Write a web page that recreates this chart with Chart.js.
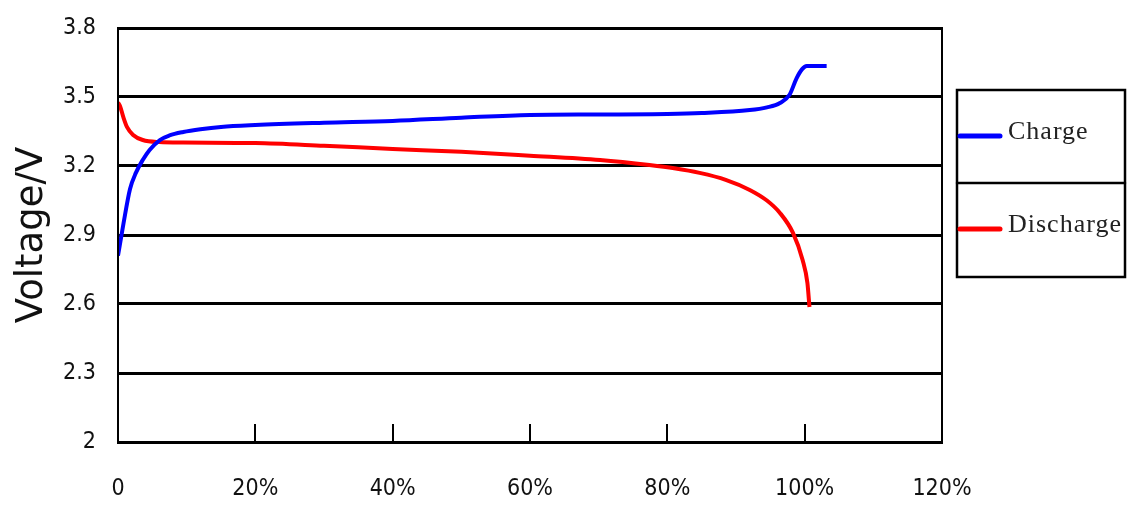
<!DOCTYPE html>
<html>
<head>
<meta charset="utf-8">
<script src="https://cdn.jsdelivr.net/npm/chart.js@4"></script>
<style>
  html, body { margin: 0; padding: 0; background: #fff; }
  #wrap { width: 1130px; height: 507px; }
</style>
</head>
<body>
<div id="wrap"><canvas id="voltChart"></canvas></div>
<script>
// ===== Data (capacity %, voltage V) =====
const chargePct = [0, 0.8, 1.75, 2.6, 3.6, 4.6, 6.1, 7.5, 9.5, 12, 15, 20, 30, 40, 50, 60, 70, 80, 85, 92, 94.5, 96.4, 97.8, 98.8, 99.6, 100.3, 103.2];
const chargeVolt = [2.81, 2.95, 3.10, 3.17, 3.226, 3.27, 3.313, 3.333, 3.348, 3.36, 3.37, 3.378, 3.388, 3.396, 3.41, 3.422, 3.424, 3.426, 3.43, 3.443, 3.455, 3.474, 3.51, 3.58, 3.62, 3.635, 3.635];

const dischargePct = [0, 0.3, 0.8, 1.3, 2.2, 3.6, 6, 9.5, 20, 30, 40, 50, 60, 70.2, 77.4, 81, 84.7, 88.5, 92, 94.5, 96.4, 98.3, 99.7, 100.4, 100.7];
const dischargeVolt = [3.476, 3.46, 3.41, 3.37, 3.335, 3.313, 3.304, 3.302, 3.30, 3.288, 3.274, 3.262, 3.245, 3.226, 3.204, 3.19, 3.17, 3.14, 3.096, 3.05, 2.996, 2.909, 2.791, 2.691, 2.587];

const xTicks = [0, 20, 40, 60, 80, 100, 120];
const yTicks = [2, 2.3, 2.6, 2.9, 3.2, 3.5, 3.8];

const toPoints = (xs, ys) => xs.map((x, i) => ({ x: x, y: ys[i] }));

// frame around the plot area
const framePlugin = {
  id: 'frame',
  afterDraw(chart) {
    const { ctx, chartArea: a } = chart;
    ctx.save();
    ctx.strokeStyle = '#000';
    ctx.lineWidth = 2;
    ctx.strokeRect(a.left, a.top, a.right - a.left, a.bottom - a.top);
    ctx.restore();
  }
};

// boxed legend on the right, one cell per dataset
const boxLegend = {
  id: 'boxLegend',
  afterDraw(chart) {
    const { ctx } = chart;
    const sets = chart.data.datasets;
    const left = 957, right = 1125, top = 90, cell = 93;
    ctx.save();
    ctx.strokeStyle = '#000';
    ctx.lineWidth = 2.5;
    ctx.strokeRect(left, top, right - left, cell * sets.length + 1);
    sets.forEach((ds, i) => {
      const cy = top + cell * i + 46;
      if (i > 0) {
        ctx.beginPath();
        ctx.moveTo(left, top + cell * i);
        ctx.lineTo(right, top + cell * i);
        ctx.stroke();
      }
      ctx.beginPath();
      ctx.strokeStyle = ds.borderColor;
      ctx.lineWidth = 5;
      ctx.lineCap = 'round';
      ctx.moveTo(left + 3, cy);
      ctx.lineTo(left + 43, cy);
      ctx.stroke();
      ctx.strokeStyle = '#000';
      ctx.lineWidth = 2.5;
      ctx.fillStyle = '#222';
      ctx.font = "26px 'Liberation Serif', serif";
      ctx.letterSpacing = '1px';
      ctx.textBaseline = 'middle';
      ctx.fillText(ds.label, left + 51, cy - 4);
    });
    ctx.restore();
  }
};

const ctx = document.getElementById('voltChart').getContext('2d');
new Chart(ctx, {
  type: 'line',
  plugins: [framePlugin, boxLegend],
  data: {
    datasets: [
      {
        label: 'Charge',
        data: toPoints(chargePct, chargeVolt),
        borderColor: '#0000ff',
        borderWidth: 4,
        pointRadius: 0,
        cubicInterpolationMode: 'monotone',
        fill: false
      },
      {
        label: 'Discharge',
        data: toPoints(dischargePct, dischargeVolt),
        borderColor: '#ff0000',
        borderWidth: 4,
        pointRadius: 0,
        cubicInterpolationMode: 'monotone',
        fill: false
      }
    ]
  },
  options: {
    responsive: true,
    maintainAspectRatio: false,
    animation: false,
    layout: { padding: { top: 28, right: 188, left: 0, bottom: 0 } },
    plugins: {
      legend: { display: false },
      tooltip: { enabled: false }
    },
    scales: {
      x: {
        type: 'linear',
        min: xTicks[0],
        max: xTicks[xTicks.length - 1],
        afterBuildTicks: scale => { scale.ticks = xTicks.map(v => ({ value: v })); },
        afterFit: scale => { scale.height = 65; },
        grid: {
          drawOnChartArea: false,
          color: '#000',
          lineWidth: 2,
          tickLength: -18
        },
        border: { color: '#000', width: 3 },
        ticks: {
          color: '#111',
          padding: 51,
          maxRotation: 0,
          font: { family: "'DejaVu Sans Condensed', 'DejaVu Sans', sans-serif", size: 23 },
          callback: v => v === 0 ? '0' : v + '%'
        }
      },
      y: {
        min: yTicks[0],
        max: yTicks[yTicks.length - 1],
        afterBuildTicks: scale => { scale.ticks = yTicks.map(v => ({ value: v })); },
        afterFit: scale => { scale.width = 118; scale.paddingTop = 0; scale.paddingBottom = 0; },
        grid: {
          color: '#000',
          lineWidth: 3,
          drawTicks: false
        },
        border: { color: '#000', width: 2 },
        ticks: {
          color: '#111',
          padding: 22,
          font: { family: "'DejaVu Sans Condensed', 'DejaVu Sans', sans-serif", size: 23 },
          callback: v => String(+v.toFixed(1))
        },
        title: {
          display: true,
          text: 'Voltage/V',
          color: '#111',
          padding: { top: 10, bottom: 6 },
          font: { family: "'DejaVu Sans', sans-serif", size: 37 }
        }
      }
    }
  }
});
</script>
</body>
</html>
